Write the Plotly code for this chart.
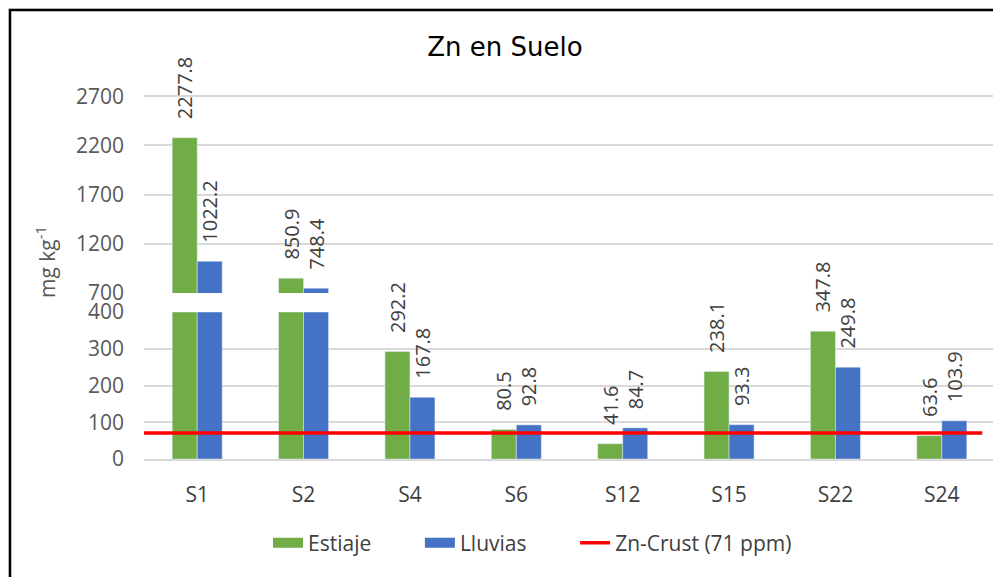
import numpy as np
import plotly.graph_objects as go

# ---- data ----
sites = ["S1", "S2", "S4", "S6", "S12", "S15", "S22", "S24"]
estiaje = [2277.8, 850.9, 292.2, 80.5, 41.6, 238.1, 347.8, 63.6]
lluvias = [1022.2, 748.4, 167.8, 92.8, 84.7, 93.3, 249.8, 103.9]
zn_crust = 71
lower_ticks = [0, 100, 200, 300, 400]
upper_ticks = [700, 1200, 1700, 2200, 2700]
legend_names = ["Estiaje", "Lluvias", "Zn-Crust (71 ppm)"]

LOWER_TOP = lower_ticks[-1]
UPPER_BOTTOM = upper_ticks[0]

GREEN = "#70AD47"
BLUE = "#4472C4"
RED = "#FF0000"
PAD = "\u00a0\u00a0\u00a0"
GAP = "\u00a0" * 8
FONT = "Open Sans"

# the HTML page body has an 8px margin; the figure is sized to fit the window
OFF = 8
W, H = 1001 - OFF, 577 - OFF

def labels(vals, keep):
    return [PAD + f"{v:.1f}" if keep(v) else "" for v in vals]

fig = go.Figure()

series = [(legend_names[0], estiaje, GREEN), (legend_names[1], lluvias, BLUE)]
for name, vals, col in series:
    arr = np.array(vals)
    # lower panel (broken axis: values above the break are cut at the panel top)
    fig.add_trace(go.Bar(
        x=sites, y=np.minimum(arr, LOWER_TOP), name=name, marker_color=col,
        text=labels(vals, lambda v: v <= LOWER_TOP), textposition="outside",
        textangle=-90, constraintext="none", cliponaxis=False,
        textfont=dict(family=FONT, size=20, color="#404040"),
        showlegend=False, xaxis="x", yaxis="y", offsetgroup=name))
    # upper panel
    fig.add_trace(go.Bar(
        x=sites, y=arr, name=name, marker_color=col,
        text=labels(vals, lambda v: v > UPPER_BOTTOM), textposition="outside",
        textangle=-90, constraintext="none", cliponaxis=True,
        textfont=dict(family=FONT, size=20, color="#404040"),
        showlegend=False, xaxis="x2", yaxis="y2", offsetgroup=name))

# legend entries
for name, col, w, tail in [(legend_names[0], GREEN, 12, GAP),
                           (legend_names[1], BLUE, 12, GAP),
                           (legend_names[2], RED, 3.5, "")]:
    fig.add_trace(go.Scatter(x=[None], y=[None], mode="lines", name=name + tail,
                             line=dict(color=col, width=w), xaxis="x", yaxis="y"))

# reference-pixel helpers (plot area: x 144..995, y 47..459 in window pixels)
def py(p):
    return (459 - p) / 412.0
def px(p):
    return (p - 144) / 851.0

fig.update_layout(
    width=W, height=H, autosize=False,
    margin=dict(l=144 - OFF, r=W - (995 - OFF), t=47 - OFF, b=H - (459 - OFF)),
    paper_bgcolor="#eeeef2", plot_bgcolor="rgba(0,0,0,0)",
    barmode="group", bargap=0.53, bargroupgap=0,
    title=dict(text="Zn en Suelo", x=(505 - OFF) / W, xref="container", xanchor="center",
               y=1 - (47 - OFF) / H, yref="container", yanchor="middle",
               font=dict(family="DejaVu Sans", size=26, color="#000000")),
    xaxis=dict(type="category", categoryorder="array", categoryarray=sites,
               domain=[0, 1], anchor="y", showline=True, linecolor="#d9d9d9",
               linewidth=2, showgrid=False, ticks="", ticklabelstandoff=16,
               tickfont=dict(family=FONT, size=21, color="#404040")),
    xaxis2=dict(type="category", categoryorder="array", categoryarray=sites,
                matches="x", anchor="y2", visible=False),
    yaxis=dict(domain=[0, py(312)], range=[0, LOWER_TOP], tickvals=lower_ticks,
               showgrid=True, gridcolor="#d9d9d9", gridwidth=2, zeroline=False,
               ticks="", ticklabelstandoff=19,
               tickfont=dict(family=FONT, size=21, color="#595959")),
    yaxis2=dict(domain=[py(293), 1], range=[UPPER_BOTTOM, 3200], tickvals=upper_ticks,
                showgrid=True, gridcolor="#d9d9d9", gridwidth=2, zeroline=False,
                ticks="", ticklabelstandoff=19, anchor="x2",
                tickfont=dict(family=FONT, size=21, color="#595959")),
    legend=dict(orientation="h", x=px(268), xanchor="left", y=py(543),
                yanchor="middle", font=dict(family=FONT, size=21, color="#404040"),
                bgcolor="rgba(0,0,0,0)", itemwidth=30, traceorder="normal"),
    shapes=[
        dict(type="rect", xref="paper", yref="paper", x0=px(10), x1=px(1010),
             y0=py(590), y1=py(10), fillcolor="#ffffff",
             line=dict(color="#000000", width=2.5), layer="below"),
        dict(type="line", xref="x domain", yref="y", x0=0, x1=0.985,
             y0=zn_crust, y1=zn_crust, line=dict(color=RED, width=3.5), layer="above"),
    ],
    annotations=[
        dict(text="mg kg<sup>-1</sup>", xref="paper", yref="paper",
             x=px(45), y=py(262), xanchor="center", yanchor="middle",
             textangle=-90, showarrow=False,
             font=dict(family=FONT, size=21, color="#595959")),
    ],
)

fig.write_html("out.html")
